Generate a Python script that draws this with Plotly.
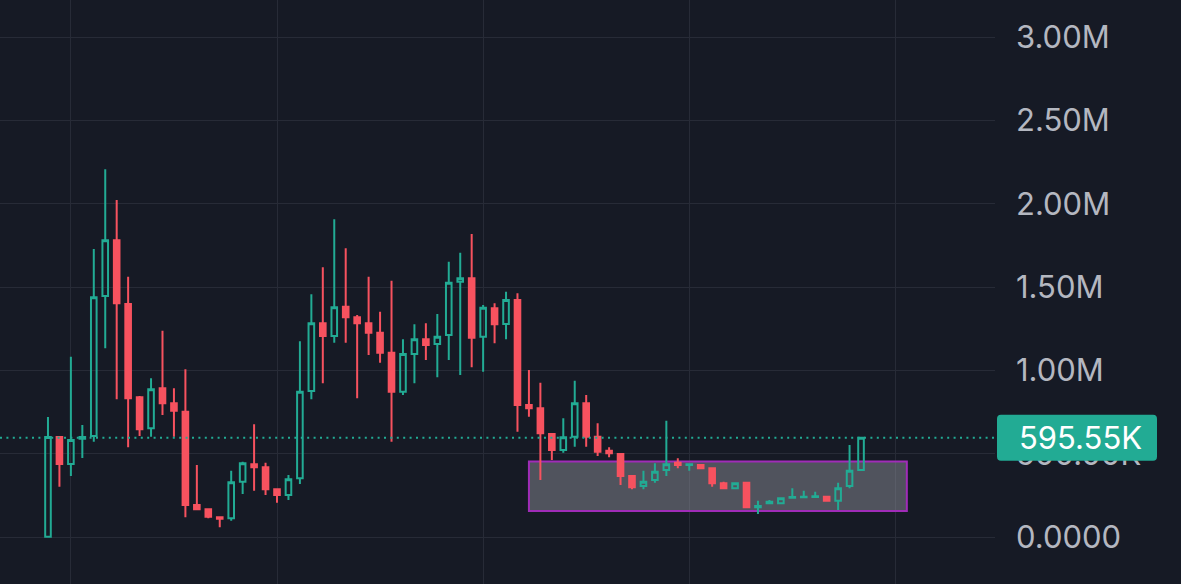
import plotly.graph_objects as go

# ---- data (values in K) ----
opens = [2, 600, 438, 590, 606, 1446, 1780, 1398, 838, 652, 892, 802, 752, 192, 166, 118,
         112, 332, 436, 418, 286, 252, 352, 876, 1282, 1206, 1382, 1318, 1282, 1226, 1106,
         872, 1098, 1186, 1158, 1212, 1532, 1552, 1202, 1372, 1278, 1422, 792, 772, 618,
         522, 602, 802, 602, 518, 498, 366, 306, 342, 402, 446, 432, 432, 412, 322, 292,
         326, 178, 202, 202, 236, 238, 240, 242, 218, 306, 402]
highs = [720, 605, 1082, 672, 1728, 2206, 2022, 1562, 846, 952, 1238, 892, 1006, 432, 170, 120,
         398, 452, 676, 446, 290, 372, 1174, 1456, 1618, 1906, 1732, 1332, 1562, 1352, 1538,
         1186, 1276, 1282, 1338, 1652, 1706, 1818, 1392, 1402, 1472, 1462, 1002, 926, 620,
         712, 938, 852, 682, 538, 502, 370, 398, 442, 698, 472, 440, 436, 418, 332, 326,
         330, 218, 222, 236, 292, 278, 272, 244, 326, 552, 600]
lows = [0, 302, 366, 474, 572, 1132, 826, 538, 606, 602, 732, 602, 118, 160, 112, 58,
        98, 258, 278, 252, 206, 222, 318, 826, 922, 1166, 1166, 832, 1092, 1046, 572,
        852, 922, 1062, 958, 1062, 972, 1018, 992, 1162, 1186, 632, 722, 342, 462,
        506, 542, 542, 486, 478, 312, 286, 286, 326, 366, 412, 398, 408, 302, 288, 288,
        174, 138, 196, 198, 234, 236, 238, 214, 162, 292, 398]
closes = [600, 438, 582, 600, 1438, 1780, 1402, 832, 646, 886, 802, 758, 192, 166, 122, 110,
          328, 442, 418, 286, 252, 346, 872, 1282, 1206, 1378, 1318, 1282, 1226, 1106, 872,
          1098, 1186, 1152, 1202, 1526, 1552, 1196, 1376, 1276, 1422, 792, 772, 622, 522,
          598, 802, 602, 512, 502, 366, 298, 332, 392, 436, 432, 436, 412, 322, 292, 322,
          178, 186, 212, 232, 240, 242, 244, 218, 292, 398, 595.55]
bars = list(range(len(opens)))

y_tickvals = [0, 500e3, 1e6, 1.5e6, 2e6, 2.5e6, 3e6]
y_ticktext = ["0.0000", "500.00K", "1.00M", "1.50M", "2.00M", "2.50M", "3.00M"]
x_gridvals = [2, 20, 38, 56, 74]
last_label = "595.55K"

# highlighted consolidation zone (bar index, value)
zone_x = [42, 75]
zone_y = [156e3, 453e3]

K = 1000.0
o = [v * K for v in opens]
h = [v * K for v in highs]
l = [v * K for v in lows]
c = [v * K for v in closes]

BG = "#161a25"
GREEN = "#22ab94"
RED = "#f7525f"
GRID = "#272b37"

fig = go.Figure()
fig.add_trace(go.Candlestick(
    x=bars, open=o, high=h, low=l, close=c,
    increasing=dict(line=dict(color=GREEN, width=2), fillcolor="rgba(0,0,0,0)"),
    decreasing=dict(line=dict(color=RED, width=2), fillcolor=RED),
    whiskerwidth=0, showlegend=False, hoverinfo="skip",
))

# zone rectangle (between grid and candles)
fig.add_shape(type="rect", xref="x", yref="y",
              x0=zone_x[0], x1=zone_x[1], y0=zone_y[0], y1=zone_y[1],
              line=dict(color="#a02cb8", width=2),
              fillcolor="rgba(150,152,162,0.45)", layer="between")

last = c[-1]
# dotted last-price line
fig.add_shape(type="line", xref="paper", yref="y", x0=0, x1=0.845, y0=last, y1=last,
              line=dict(color=GREEN, width=2, dash="2px,4.4px"), layer="above")

# price label box with rounded corners
px = 1 / 1181.0
py = 6000.0
x0, x1 = 997 * px, 1157 * px
y0, y1 = last - 23 * py, last + 23 * py
rx, ry = 4 * px, 4 * py
path = (f"M {x0+rx},{y0} L {x1-rx},{y0} Q {x1},{y0} {x1},{y0+ry} "
        f"L {x1},{y1-ry} Q {x1},{y1} {x1-rx},{y1} L {x0+rx},{y1} "
        f"Q {x0},{y1} {x0},{y1-ry} L {x0},{y0+ry} Q {x0},{y0} {x0+rx},{y0} Z")
fig.add_shape(type="path", xref="paper", yref="y", path=path,
              fillcolor=GREEN, line=dict(width=0), layer="above")
fig.add_annotation(xref="paper", yref="y", x=1080 * px, y=last, text=last_label,
                   showarrow=False, xanchor="center", yanchor="middle",
                   font=dict(family="Inter", size=31, color="#ffffff"))

fig.update_layout(
    width=1181, height=584,
    margin=dict(l=0, r=0, t=0, b=0),
    paper_bgcolor=BG, plot_bgcolor=BG,
    showlegend=False,
    xaxis=dict(domain=[0, 995 / 1181], range=[-4.19, 82.7],
               rangeslider=dict(visible=False),
               tickvals=x_gridvals, showticklabels=False, ticks="",
               showgrid=True, gridcolor=GRID, gridwidth=1,
               zeroline=False, showline=False),
    yaxis=dict(side="right", range=[-282e3, 3.222e6],
               tickvals=y_tickvals, ticktext=y_ticktext,
               ticks="", ticklabelstandoff=20,
               tickfont=dict(family="Inter", size=31, color="#b4b7c0"),
               showgrid=True, gridcolor=GRID, gridwidth=1,
               zeroline=False, showline=False),
)

fig.write_html(
    "out.html",
    config={"displayModeBar": False, "staticPlot": True},
    post_script="document.body.style.margin='0';document.body.style.background='" + BG + "';",
)
